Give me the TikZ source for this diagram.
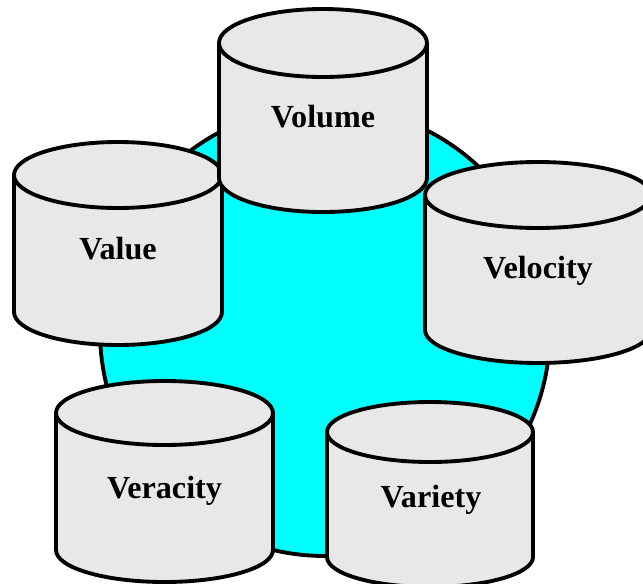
\documentclass[tikz,border=0pt]{standalone}
\usepackage{fontspec}
\setmainfont{Liberation Serif}
\tikzset{
  cylstyle/.style={draw=black, line width=2.2pt, fill=cylgray, line join=round},
  hubstyle/.style={draw=black, line width=2.2pt, fill=hubcyan},
  lbl/.style={font=\fontsize{18.3}{21}\selectfont\bfseries, inner sep=0pt, anchor=base}
}
\definecolor{cylgray}{HTML}{E8E8E8}
\definecolor{hubcyan}{HTML}{00FFFF}
\newcommand\cylshape[5]{%
  \filldraw[cylstyle] ({#1-#4},#2) -- ({#1-#4},#3)
    arc[start angle=180, end angle=360, x radius=#4, y radius=#5]
    -- ({#1+#4},#2) -- cycle;
  \filldraw[cylstyle] (#1,#2) ellipse[x radius=#4, y radius=#5];
}
\begin{document}
\begin{tikzpicture}[x=0.02cm, y=0.02cm]
\useasboundingbox (0,0) rectangle (643,-583);
\clip (0,0) rectangle (643,-583);
\filldraw[hubstyle] (325,-331) circle[radius=225];
\cylshape{118}{-175}{-312}{104}{33}
\node[lbl] (value) at (118,-259) {Value};
\cylshape{323}{-43}{-178}{104}{34}
\node[lbl] (volume) at (323,-127) {Volume};
\cylshape{538}{-195}{-330}{113}{33}
\node[lbl] (velocity) at (538,-278) {Velocity};
\cylshape{164.5}{-413}{-550}{108.5}{32}
\node[lbl] (veracity) at (164.5,-498) {Veracity};
\cylshape{430}{-432}{-557}{103}{30}
\node[lbl] (variety) at (431,-507) {Variety};
\end{tikzpicture}
\end{document}
